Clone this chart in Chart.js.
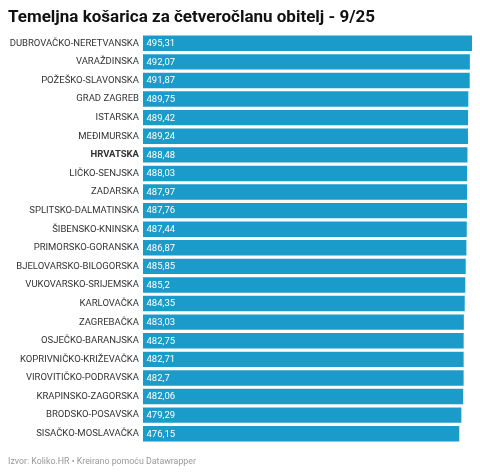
<!DOCTYPE html>
<html>
<head>
<meta charset="utf-8">
<script src="https://cdn.jsdelivr.net/npm/chart.js@4"></script>
<style>
  html, body { margin: 0; padding: 0; background: #fff; }
  #wrap { position: relative; width: 480px; height: 475px; overflow: hidden; font-family: Roboto, sans-serif; }
  #title { position: absolute; left: 8px; top: 6px; font-size: 17px; font-weight: bold; color: #111; white-space: nowrap; }
  #footer { position: absolute; left: 8px; top: 456px; font-size: 8.8px; color: #999; white-space: nowrap; }
  #chart { position: absolute; left: 0; top: 0; }
</style>
</head>
<body>
<div id="wrap">
  <canvas id="chart" width="480" height="475"></canvas>
  <div id="title">Temeljna košarica za četveročlanu obitelj - 9/25</div>
  <div id="footer">Izvor: Koliko.HR • Kreirano pomoću Datawrapper</div>
</div>
<script>
// zupanije, poredane po cijeni
const regions = [
    'DUBROVAČKO-NERETVANSKA', 'VARAŽDINSKA', 'POŽEŠKO-SLAVONSKA', 'GRAD ZAGREB',
    'ISTARSKA', 'MEĐIMURSKA', 'HRVATSKA', 'LIČKO-SENJSKA', 'ZADARSKA',
    'SPLITSKO-DALMATINSKA', 'ŠIBENSKO-KNINSKA', 'PRIMORSKO-GORANSKA',
    'BJELOVARSKO-BILOGORSKA', 'VUKOVARSKO-SRIJEMSKA', 'KARLOVAČKA', 'ZAGREBAČKA',
    'OSJEČKO-BARANJSKA', 'KOPRIVNIČKO-KRIŽEVAČKA', 'VIROVITIČKO-PODRAVSKA',
    'KRAPINSKO-ZAGORSKA', 'BRODSKO-POSAVSKA', 'SISAČKO-MOSLAVAČKA'
];
const prices = [
    495.31, 492.07, 491.87, 489.75, 489.42, 489.24, 488.48, 488.03, 487.97,
    487.76, 487.44, 486.87, 485.85, 485.2, 484.35, 483.03, 482.75, 482.71,
    482.7, 482.06, 479.29, 476.15
];
const highlight = 'HRVATSKA';

// values written inside the bars, with a decimal comma
const valueLabels = {
    id: 'valueLabels',
    afterDatasetsDraw(chart) {
        const ctx = chart.ctx;
        const meta = chart.getDatasetMeta(0);
        ctx.save();
        ctx.font = '9.5px Roboto, sans-serif';
        ctx.fillStyle = '#fff';
        ctx.textAlign = 'left';
        ctx.textBaseline = 'middle';
        meta.data.forEach((bar, i) => {
            const txt = String(prices[i]).replace('.', ',');
            ctx.fillText(txt, bar.base + 3.5, bar.y + 0.5);
        });
        ctx.restore();
    }
};

new Chart(document.getElementById('chart'), {
    type: 'bar',
    data: {
        labels: regions,
        datasets: [{
            data: prices,
            backgroundColor: '#1a9bc9',
            borderWidth: 0,
            categoryPercentage: 1,
            barPercentage: 0.83
        }]
    },
    options: {
        indexAxis: 'y',
        responsive: false,
        animation: false,
        events: [],
        layout: { padding: { top: 34, bottom: 32, right: 8, left: 0 } },
        plugins: {
            legend: { display: false },
            tooltip: { enabled: false }
        },
        scales: {
            x: {
                display: false,
                min: 0,
                max: 495.31
            },
            y: {
                afterFit: scale => { scale.width = 143; },
                border: { display: false },
                grid: { display: false, drawTicks: false },
                ticks: {
                    padding: 4,
                    color: '#333',
                    font: c => ({
                        family: 'Roboto, sans-serif',
                        size: 9.5,
                        weight: regions[c.index] === highlight ? 'bold' : 'normal'
                    })
                }
            }
        }
    },
    plugins: [valueLabels]
});
</script>
</body>
</html>
